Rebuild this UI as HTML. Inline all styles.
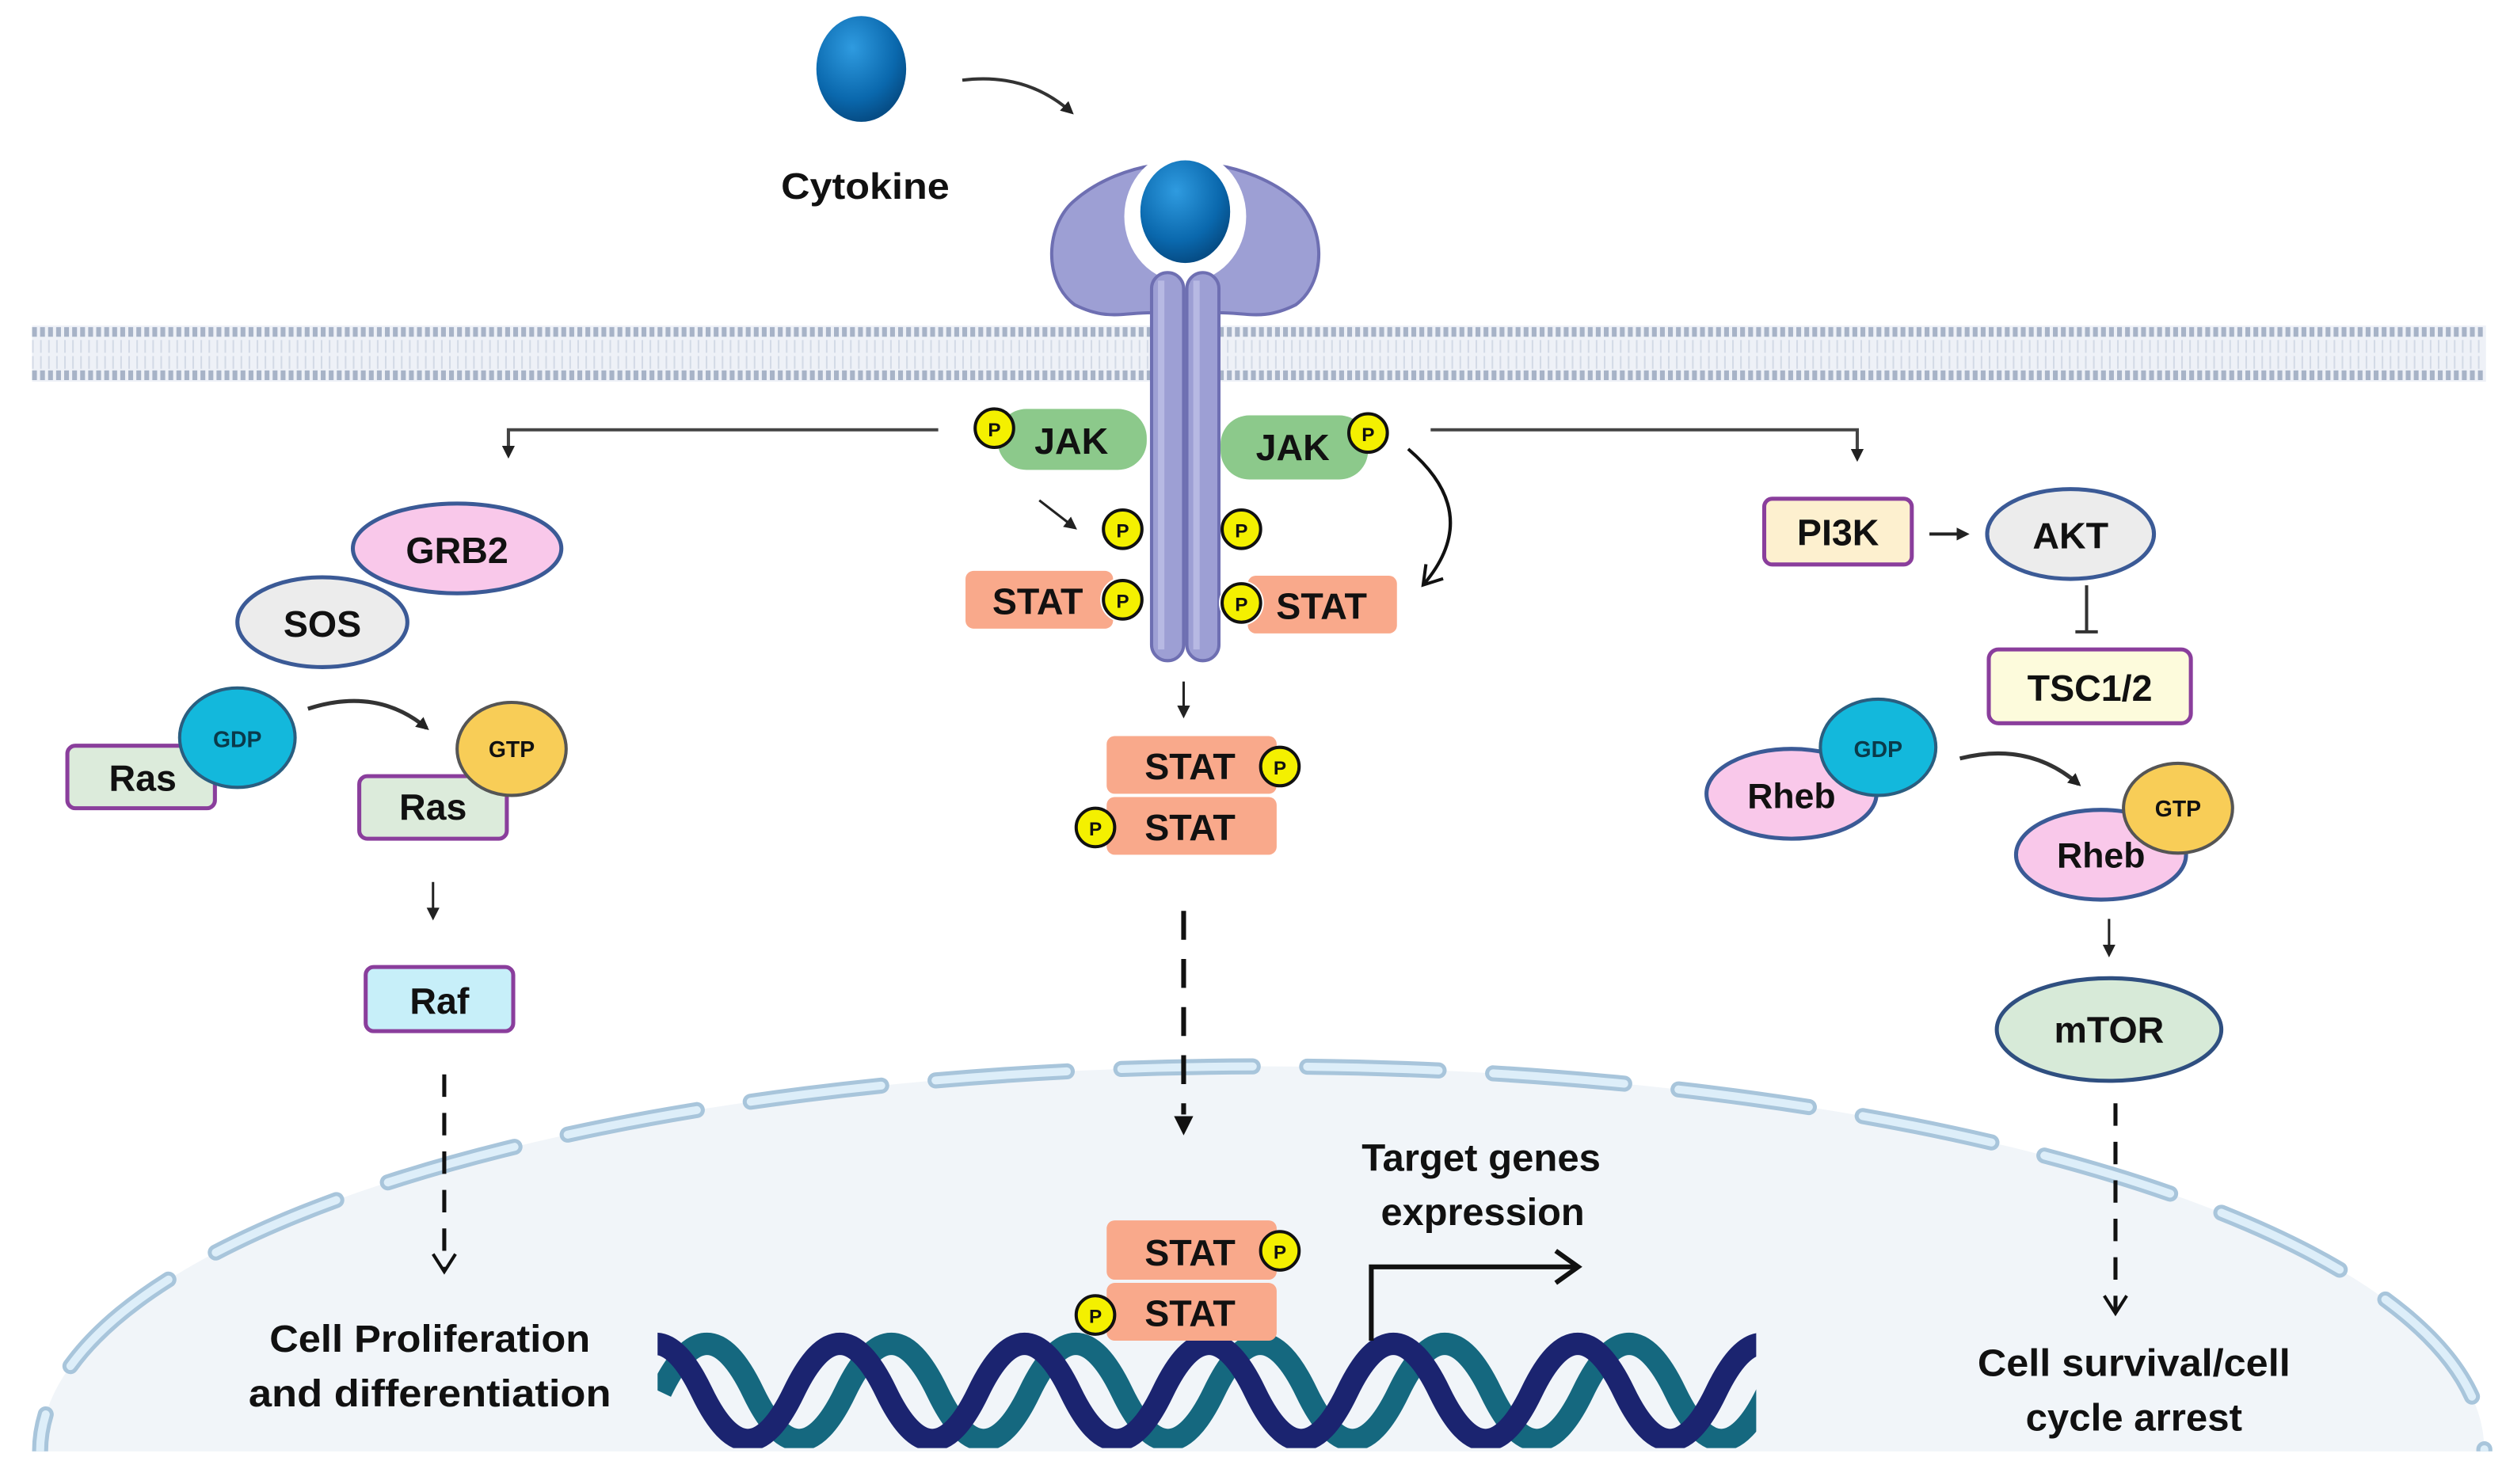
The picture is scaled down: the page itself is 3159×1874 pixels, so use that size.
<!DOCTYPE html>
<html><head><meta charset="utf-8"><style>
html,body{margin:0;padding:0;background:#fff;width:3159px;height:1874px;overflow:hidden;}
svg{display:block;}
text{font-family:"Liberation Sans",sans-serif;font-weight:bold;fill:#111;}
</style></head><body>
<svg width="3159" height="1874" viewBox="0 0 1560 925.4" preserveAspectRatio="none" xmlns="http://www.w3.org/2000/svg">
<defs>
<marker id="ah" markerWidth="8" markerHeight="8" refX="6" refY="4" orient="auto" markerUnits="userSpaceOnUse"><path d="M0,0 L8,4 L0,8 Z" fill="#222"/></marker>
<marker id="open" markerWidth="16" markerHeight="16" refX="12" refY="8" orient="auto" markerUnits="userSpaceOnUse"><path d="M2,1 L13,8 L2,15" fill="none" stroke="#111" stroke-width="2"/></marker>
<clipPath id="nucclip"><rect x="0" y="0" width="1560" height="905"/></clipPath>
<clipPath id="dnaclip"><rect x="410" y="828" width="685" height="75"/></clipPath>
<radialGradient id="blue" cx="40%" cy="30%" r="70%"><stop offset="0" stop-color="#2f9be0"/><stop offset="0.7" stop-color="#0a68ad"/><stop offset="1" stop-color="#064d86"/></radialGradient>
</defs>

<!-- nucleus -->
<g clip-path="url(#nucclip)">
<ellipse cx="787" cy="905" rx="762" ry="240" fill="#f1f5f9"/>
<ellipse cx="787" cy="905" rx="762" ry="240" fill="none" stroke="#a8c5db" stroke-width="10" stroke-dasharray="82 34" stroke-linecap="round"/>
<ellipse cx="787" cy="905" rx="762" ry="240" fill="none" stroke="#ddeef9" stroke-width="5" stroke-dasharray="82 34" stroke-linecap="round"/>
</g>

<!-- membrane -->
<rect x="20" y="203" width="1530" height="35" fill="#eef1f7"/>
<line x1="20" y1="207" x2="1550" y2="207" stroke="#a7b3c7" stroke-width="6" stroke-dasharray="3 2"/>
<line x1="20" y1="234" x2="1550" y2="234" stroke="#a7b3c7" stroke-width="6" stroke-dasharray="3 2"/>
<line x1="20" y1="216" x2="1550" y2="216" stroke="#d3dae6" stroke-width="8" stroke-dasharray="1 4"/>
<line x1="20" y1="226" x2="1550" y2="226" stroke="#d3dae6" stroke-width="8" stroke-dasharray="1 4"/>

<!-- cytokine -->
<ellipse cx="537" cy="43" rx="28" ry="33" fill="url(#blue)"/>
<path d="M600,50 Q640,45 668,70" fill="none" stroke="#333" stroke-width="2" marker-end="url(#ah)"/>
<text x="487" y="124" font-size="23" textLength="105" lengthAdjust="spacingAndGlyphs">Cytokine</text>

<!-- receptor -->
<path d="M718,195 C700,195 690,200 670,190 C650,175 652,140 670,125 C685,112 705,105 720,103 L738,140 Z" fill="#9d9fd4" stroke="#6e6fb2" stroke-width="2"/>
<path d="M760,195 C778,195 788,200 808,190 C828,175 826,140 808,125 C793,112 773,105 758,103 L738,140 Z" fill="#9d9fd4" stroke="#6e6fb2" stroke-width="2"/>
<ellipse cx="739" cy="135" rx="38" ry="41" fill="#fff"/>
<rect x="718" y="170" width="20" height="242" rx="10" fill="#9d9fd4" stroke="#6e6fb2" stroke-width="2"/>
<rect x="740" y="170" width="20" height="242" rx="10" fill="#9d9fd4" stroke="#6e6fb2" stroke-width="2"/>
<path d="M724,175 L724,405 M746,175 L746,405" stroke="#b7b9e3" stroke-width="4"/>
<ellipse cx="739" cy="132" rx="28" ry="32" fill="url(#blue)"/>

<!-- JAK -->
<rect x="622" y="255" width="93" height="38" rx="18" fill="#8cc98b"/>
<circle cx="620" cy="267" r="12" fill="#f4f000" stroke="#111" stroke-width="2"/><text x="620" y="272" font-size="12" text-anchor="middle">P</text>
<text x="668" y="283" font-size="23" text-anchor="middle">JAK</text>
<rect x="761" y="259" width="92" height="40" rx="18" fill="#8cc98b"/>
<circle cx="853" cy="270" r="12" fill="#f4f000" stroke="#111" stroke-width="2"/><text x="853" y="275" font-size="12" text-anchor="middle">P</text>
<text x="806" y="287" font-size="23" text-anchor="middle">JAK</text>

<!-- top connectors -->
<path d="M585,268 L317,268 L317,284" fill="none" stroke="#444" stroke-width="2" marker-end="url(#ah)"/>
<path d="M892,268 L1158,268 L1158,286" fill="none" stroke="#444" stroke-width="2" marker-end="url(#ah)"/>
<path d="M878,280 Q925,320 888,364" fill="none" stroke="#111" stroke-width="2" marker-end="url(#open)"/>
<path d="M648,312 L670,329" stroke="#222" stroke-width="1.5" marker-end="url(#ah)"/>

<circle cx="700" cy="330" r="12" fill="#f4f000" stroke="#111" stroke-width="2"/><text x="700" y="335" font-size="12" text-anchor="middle">P</text>
<circle cx="774" cy="330" r="12" fill="#f4f000" stroke="#111" stroke-width="2"/><text x="774" y="335" font-size="12" text-anchor="middle">P</text>

<!-- STAT at receptor -->
<rect x="602" y="356" width="92" height="36" rx="5" fill="#f9a98b"/>
<circle cx="700" cy="374" r="14" fill="#fff"/>
<circle cx="700" cy="374" r="12" fill="#f4f000" stroke="#111" stroke-width="2"/><text x="700" y="379" font-size="12" text-anchor="middle">P</text>
<text x="647" y="383" font-size="23" text-anchor="middle">STAT</text>
<rect x="778" y="359" width="93" height="36" rx="5" fill="#f9a98b"/>
<circle cx="774" cy="376" r="14" fill="#fff"/>
<circle cx="774" cy="376" r="12" fill="#f4f000" stroke="#111" stroke-width="2"/><text x="774" y="381" font-size="12" text-anchor="middle">P</text>
<text x="824" y="386" font-size="23" text-anchor="middle">STAT</text>

<path d="M738,425 L738,446" stroke="#222" stroke-width="1.5" marker-end="url(#ah)"/>

<!-- STAT dimer cytoplasm -->
<rect x="690" y="459" width="106" height="36" rx="5" fill="#f9a98b"/>
<rect x="690" y="497" width="106" height="36" rx="5" fill="#f9a98b"/>
<circle cx="798" cy="478" r="12" fill="#f4f000" stroke="#111" stroke-width="2"/><text x="798" y="483" font-size="12" text-anchor="middle">P</text>
<circle cx="683" cy="516" r="12" fill="#f4f000" stroke="#111" stroke-width="2"/><text x="683" y="521" font-size="12" text-anchor="middle">P</text>
<text x="742" y="486" font-size="23" text-anchor="middle">STAT</text>
<text x="742" y="524" font-size="23" text-anchor="middle">STAT</text>

<path d="M738,568 L738,695" stroke="#111" stroke-width="3" stroke-dasharray="18 12"/>
<path d="M732,696 L744,696 L738,708 Z" fill="#111"/>

<!-- left pathway -->
<ellipse cx="285" cy="342" rx="65" ry="28" fill="#f9c8ea" stroke="#3b5a96" stroke-width="2.5"/>
<text x="285" y="351" font-size="23" text-anchor="middle">GRB2</text>
<ellipse cx="201" cy="388" rx="53" ry="28" fill="#ececec" stroke="#3b5a96" stroke-width="2.5"/>
<text x="201" y="397" font-size="23" text-anchor="middle">SOS</text>

<rect x="42" y="465" width="92" height="39" rx="5" fill="#dcebdb" stroke="#8a3e9c" stroke-width="2.5"/>
<text x="89" y="493" font-size="23" text-anchor="middle">Ras</text>
<ellipse cx="148" cy="460" rx="36" ry="31" fill="#13b8dc" stroke="#2a5e80" stroke-width="2"/>
<text x="148" y="466" font-size="14" text-anchor="middle" style="fill:#0a3a4a">GDP</text>
<path d="M192,442 Q235,428 266,454" fill="none" stroke="#333" stroke-width="2.5" marker-end="url(#ah)"/>
<rect x="224" y="484" width="92" height="39" rx="5" fill="#dcebdb" stroke="#8a3e9c" stroke-width="2.5"/>
<text x="270" y="511" font-size="23" text-anchor="middle">Ras</text>
<ellipse cx="319" cy="467" rx="34" ry="29" fill="#f8cd57" stroke="#555" stroke-width="2"/>
<text x="319" y="472" font-size="14" text-anchor="middle">GTP</text>
<path d="M270,550 L270,572" stroke="#222" stroke-width="1.5" marker-end="url(#ah)"/>
<rect x="228" y="603" width="92" height="40" rx="5" fill="#c7eff9" stroke="#8a3e9c" stroke-width="2.5"/>
<text x="274" y="632" font-size="23" text-anchor="middle">Raf</text>
<path d="M277,670 L277,792" stroke="#111" stroke-width="2.5" stroke-dasharray="14 10" marker-end="url(#open)"/>
<text x="168" y="843" font-size="24" textLength="200" lengthAdjust="spacingAndGlyphs">Cell Proliferation</text>
<text x="155" y="877" font-size="24" textLength="226" lengthAdjust="spacingAndGlyphs">and differentiation</text>

<!-- right pathway -->
<rect x="1100" y="311" width="92" height="41" rx="5" fill="#fdf0cf" stroke="#8a3e9c" stroke-width="2.5"/>
<text x="1146" y="340" font-size="23" text-anchor="middle">PI3K</text>
<path d="M1203,333 L1226,333" stroke="#222" stroke-width="2" marker-end="url(#ah)"/>
<ellipse cx="1291" cy="333" rx="52" ry="28" fill="#ececec" stroke="#3b5a96" stroke-width="2.5"/>
<text x="1291" y="342" font-size="23" text-anchor="middle">AKT</text>
<path d="M1301,365 L1301,394 M1294,394 L1308,394" stroke="#333" stroke-width="2"/>
<rect x="1240" y="405" width="126" height="46" rx="6" fill="#fdfbdc" stroke="#8a3e9c" stroke-width="2.5"/>
<text x="1303" y="437" font-size="23" text-anchor="middle">TSC1/2</text>

<ellipse cx="1117" cy="495" rx="53" ry="28" fill="#f9c8ea" stroke="#3b5a96" stroke-width="2.5"/>
<text x="1117" y="504" font-size="22" text-anchor="middle">Rheb</text>
<ellipse cx="1171" cy="466" rx="36" ry="30" fill="#13b8dc" stroke="#2a5e80" stroke-width="2"/>
<text x="1171" y="472" font-size="14" text-anchor="middle" style="fill:#0a3a4a">GDP</text>
<path d="M1222,473 Q1265,462 1296,489" fill="none" stroke="#333" stroke-width="2.5" marker-end="url(#ah)"/>
<ellipse cx="1310" cy="533" rx="53" ry="28" fill="#f9c8ea" stroke="#3b5a96" stroke-width="2.5"/>
<text x="1310" y="541" font-size="22" text-anchor="middle">Rheb</text>
<ellipse cx="1358" cy="504" rx="34" ry="28" fill="#f8cd57" stroke="#555" stroke-width="2"/>
<text x="1358" y="509" font-size="14" text-anchor="middle">GTP</text>
<path d="M1315,573 L1315,595" stroke="#222" stroke-width="1.5" marker-end="url(#ah)"/>
<ellipse cx="1315" cy="642" rx="70" ry="32" fill="#d7ead8" stroke="#2f4f80" stroke-width="2.5"/>
<text x="1315" y="650" font-size="23" text-anchor="middle">mTOR</text>
<path d="M1319,688 L1319,818" stroke="#111" stroke-width="2.5" stroke-dasharray="14 10" marker-end="url(#open)"/>
<text x="1233" y="858" font-size="24" textLength="195" lengthAdjust="spacingAndGlyphs">Cell survival/cell</text>
<text x="1263" y="892" font-size="24" textLength="135" lengthAdjust="spacingAndGlyphs">cycle arrest</text>

<!-- DNA -->
<g clip-path="url(#dnaclip)" fill="none" stroke-width="14">
<path stroke="#15687f" d="M412,868 q28.75,-60 57.5,0 t57.5,0 t57.5,0 t57.5,0 t57.5,0 t57.5,0 t57.5,0 t57.5,0 t57.5,0 t57.5,0 t57.5,0 t57.5,0 t57.5,0 t57.5,0"/>
<path stroke="#1b2470" d="M380,868 q28.75,-60 57.5,0 t57.5,0 t57.5,0 t57.5,0 t57.5,0 t57.5,0 t57.5,0 t57.5,0 t57.5,0 t57.5,0 t57.5,0 t57.5,0 t57.5,0 t57.5,0"/>
</g>

<!-- nuclear STAT dimer -->
<rect x="690" y="761" width="106" height="37" rx="5" fill="#f9a98b"/>
<rect x="690" y="800" width="106" height="36" rx="5" fill="#f9a98b"/>
<circle cx="798" cy="780" r="12" fill="#f4f000" stroke="#111" stroke-width="2"/><text x="798" y="785" font-size="12" text-anchor="middle">P</text>
<circle cx="683" cy="820" r="12" fill="#f4f000" stroke="#111" stroke-width="2"/><text x="683" y="825" font-size="12" text-anchor="middle">P</text>
<text x="742" y="789" font-size="23" text-anchor="middle">STAT</text>
<text x="742" y="827" font-size="23" text-anchor="middle">STAT</text>

<path d="M855,836 L855,790 L982,790" fill="none" stroke="#111" stroke-width="3"/>
<path d="M970,780 L984,790 L970,800" fill="none" stroke="#111" stroke-width="3"/>
<text x="849" y="730" font-size="24" textLength="149" lengthAdjust="spacingAndGlyphs">Target genes</text>
<text x="861" y="764" font-size="24" textLength="127" lengthAdjust="spacingAndGlyphs">expression</text>
</svg>
</body></html>
